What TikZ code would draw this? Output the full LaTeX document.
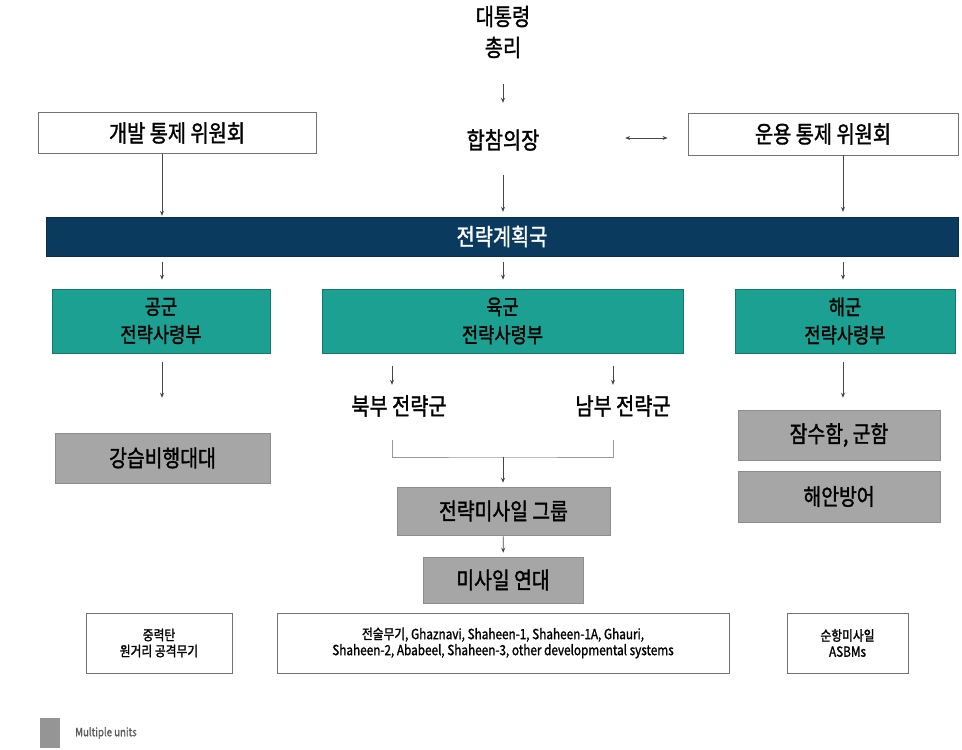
\documentclass[tikz,border=0pt]{standalone}
\usepackage{fontspec}
\setmainfont{Noto Sans CJK KR}[FakeStretch=0.84,FakeBold=1.4]
\usetikzlibrary{arrows.meta,calc}
\definecolor{navy}{RGB}{10,58,94}
\definecolor{tealbox}{RGB}{27,160,146}
\definecolor{graybox}{RGB}{166,166,166}
\definecolor{lncol}{RGB}{70,70,70}
\tikzset{
  wbox/.style={draw=black!55, fill=white, line width=0.9pt, inner sep=0pt},
  tbox/.style={fill=tealbox, draw=tealbox!75!black, line width=0.6pt, inner sep=0pt, align=center,
    font=\fontsize{21}{28}\selectfont},
  gbox/.style={fill=graybox, draw=graybox!85!black, line width=0.5pt, inner sep=0pt,
    font=\fontsize{23}{26}\selectfont},
  plain/.style={inner sep=0pt, font=\fontsize{23.5}{26}\selectfont},
  big/.style={font=\fontsize{23.5}{26}\selectfont},
  small/.style={font=\fontsize{14}{16}\selectfont, align=center},
  arr/.style={draw=lncol, line width=0.7pt, -{Stealth[length=5pt,width=4pt]}},
  darr/.style={draw=lncol, line width=0.7pt, {Stealth[length=5pt,width=4pt]}-{Stealth[length=5pt,width=4pt]}},
  ln/.style={draw=black!40, line width=0.7pt}
}
\begin{document}
\begin{tikzpicture}[x=1pt,y=-1pt]
\useasboundingbox (0,0) rectangle (962,750);

% top
\node[plain, align=center, font=\fontsize{23.5}{31}\selectfont, minimum height=56pt] (pm) at (503,32) {대통령\\총리};
\node[plain, minimum height=30pt, minimum width=100pt] (jcs) at (503,140) {합참의장};
\node[wbox, big, minimum width=278pt, minimum height=41pt] (dev) at (177,133) {개발 통제 위원회};
\node[wbox, big, minimum width=270pt, minimum height=42pt] (ops) at (823,134) {운용 통제 위원회};

% bar
\node[fill=navy, draw=navy!80!black, inner sep=0pt, minimum width=912pt, minimum height=39pt,
  text=white, font=\fontsize{23.5}{26}\selectfont] (bar) at (502,236.5) {전략계획국};

% commands
\node[tbox, minimum width=218pt, minimum height=64pt] (af) at (161,321) {공군\\전략사령부};
\node[tbox, minimum width=361pt, minimum height=64pt] (ar) at (502.5,321) {육군\\전략사령부};
\node[tbox, minimum width=220pt, minimum height=64pt] (nv) at (845,321) {해군\\전략사령부};

\node[plain, minimum height=30pt] (north) at (399,406) {북부 전략군};
\node[plain, minimum height=30pt] (south) at (623,406) {남부 전략군};

\node[gbox, minimum width=215pt, minimum height=50pt] (abn) at (162.5,458) {강습비행대대};
\node[gbox, minimum width=202pt, minimum height=50pt] (sub) at (839,435) {잠수함, 군함};
\node[gbox, minimum width=202pt, minimum height=51pt] (coast) at (839,496.5) {해안방어};
\node[gbox, minimum width=213pt, minimum height=48pt] (smg) at (503.5,511) {전략미사일 그룹};
\node[gbox, minimum width=160pt, minimum height=46pt] (mr) at (503,580) {미사일 연대};

\node[wbox, small, minimum width=146pt, minimum height=60pt] (b1) at (159,643) {중력탄\\원거리 공격무기};
\node[wbox, small, minimum width=452pt, minimum height=60pt] (b2) at (503,643) {전술무기, Ghaznavi, Shaheen-1, Shaheen-1A, Ghauri,\\Shaheen-2, Ababeel, Shaheen-3, other developmental systems};
\node[wbox, small, minimum width=121pt, minimum height=60pt] (b3) at (847.5,643) {순항미사일\\ASBMs};

% legend
\node[fill=graybox!90!black, inner sep=0pt, minimum width=20pt, minimum height=30pt] (lg) at (50,733) {};
\node[anchor=west, inner sep=0pt, text=black!65, font=\fontsize{11.5}{12}\selectfont] (lgt) at (75,733) {Multiple units};

% x positions
\coordinate (xl) at (162,0);
\coordinate (xc) at (503,0);
\coordinate (xr) at (843,0);
\coordinate (yd) at (0,138);

% connectors
\draw[arr, shorten <=24pt, shorten >=22pt] (pm) -- (jcs);
\draw[darr, shorten <=72pt, shorten >=20pt] (jcs.east |- yd) -- (ops.west |- yd);
\draw[arr, shorten >=1pt] (dev.south -| xl) -- (bar.north -| xl);
\draw[arr, shorten <=20pt, shorten >=5pt] (jcs.south -| xc) -- (bar.north -| xc);
\draw[arr, shorten >=5pt] (ops.south -| xr) -- (bar.north -| xr);

\draw[arr, shorten <=6pt, shorten >=9pt] (bar.south -| xl) -- (af.north -| xl);
\draw[arr, shorten <=6pt, shorten >=9pt] (bar.south -| xc) -- (ar.north -| xc);
\draw[arr, shorten <=6pt, shorten >=9pt] (bar.south -| xr) -- (nv.north -| xr);

\draw[arr, shorten <=9pt, shorten >=35pt] (af.south -| xl) -- (abn.north -| xl);
\coordinate (bkl) at (392,440);
\coordinate (bkr) at (613,440);
\coordinate (bk) at (503,457);
\draw[arr, shorten <=13pt, shorten >=6pt] (ar.south -| bkl) -- (north.north -| bkl);
\draw[arr, shorten <=13pt, shorten >=6pt] (ar.south -| bkr) -- (south.north -| bkr);
\draw[arr, shorten <=9pt, shorten >=12pt] (nv.south -| xr) -- (sub.north -| xr);

\draw[ln] (bkl) |- (bk) -| (bkr);
\draw[arr, shorten >=4pt] (bk) -- (smg.north -| bk);
\draw[arr, shorten <=1pt, shorten >=4pt] (smg) -- (mr);
\end{tikzpicture}
\end{document}
